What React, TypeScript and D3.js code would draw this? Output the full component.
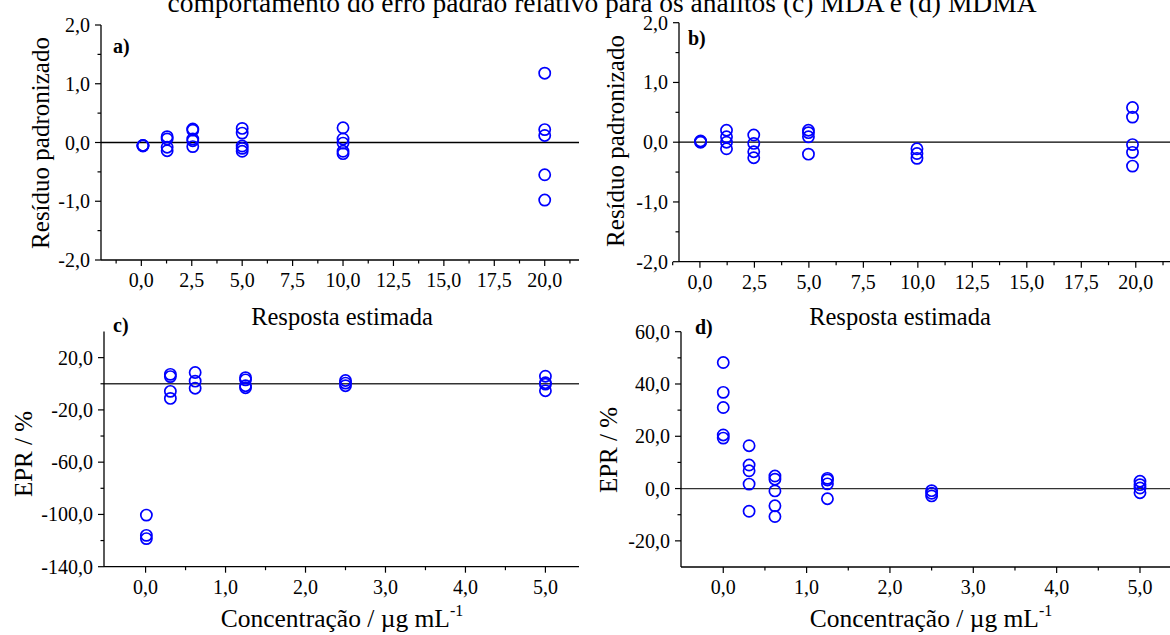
import React from "react";
import * as d3 from "d3";

// ---- data ----
const aConc = [0.08, 1.28, 2.55, 5.0, 10.0, 20.0];
const aResid = [
  [-0.05, -0.06, -0.05],
  [0.10, 0.06, -0.08, -0.14],
  [0.23, 0.21, 0.06, 0.03, -0.07],
  [0.24, 0.16, -0.06, -0.10, -0.15],
  [0.25, 0.06, -0.01, -0.15, -0.19],
  [1.18, 0.22, 0.12, -0.55, -0.98],
];
const bConc = [0.03, 1.22, 2.47, 4.98, 9.96, 19.85];
const bResid = [
  [0.02, 0.01, 0.0],
  [0.20, 0.09, 0.0, -0.11],
  [0.12, -0.02, -0.16, -0.26],
  [0.20, 0.16, 0.09, -0.20],
  [-0.11, -0.19, -0.27],
  [0.58, 0.42, -0.04, -0.17, -0.40],
];
const cConc = [0.01, 0.31, 0.62, 1.25, 2.5, 5.0];
const cEpr = [
  [-100.5, -116, -118.5],
  [7.2, 5.5, -5.8, -11.2],
  [8.6, 2.0, -3.4],
  [4.7, 3.0, -1.5, -3.0],
  [2.5, 0.5, -1.5],
  [5.8, 0.8, -0.3, -5.3],
];
const dConc = [0.0, 0.31, 0.62, 1.25, 2.5, 5.0];
const dEpr = [
  [48.2, 36.8, 31.0, 20.5, 19.3],
  [16.4, 9.0, 6.8, 1.7, -8.7],
  [4.8, 3.6, -0.9, -6.6, -10.7],
  [3.9, 3.3, 1.8, -3.9],
  [-0.8, -1.8, -2.8],
  [2.8, 1.5, 0.2, -1.6],
];

const residXMajor = [0, 2.5, 5, 7.5, 10, 12.5, 15, 17.5, 20];
const residXMinor = [-1.25, 1.25, 3.75, 6.25, 8.75, 11.25, 13.75, 16.25, 18.75, 21.25];
const residYMajor = [-2, -1, 0, 1, 2];
const residYMinor = [-1.5, -0.5, 0.5, 1.5];
const concXMajor = [0, 1, 2, 3, 4, 5];
const concXMinor = [0.5, 1.5, 2.5, 3.5, 4.5];
const cYMajor = [-140, -100, -60, -20, 20];
const cYMinor = [-120, -80, -40, 0];
const dYMajor = [-20, 0, 20, 40, 60];
const dYMinor = [-10, 10, 30, 50];

const title = "comportamento do erro padrão relativo para os analitos (c) MDA e (d) MDMA";

const FONT = "'Liberation Serif', 'Times New Roman', serif";
const BLUE = "#0000FF";
const fmt = (v: number) => v.toFixed(1).replace(".", ",");

type PanelProps = {
  xs: number[];
  ys: number[][];
  xDomain: [number, number];
  xRange: [number, number];
  yDomain: [number, number];
  yRange: [number, number];
  xMajor: number[];
  xMinor: number[];
  yMajor: number[];
  yMinor: number[];
  xLabelGap: number;
  zeroColor: string;
};

function Panel(p: PanelProps) {
  const x = d3.scaleLinear().domain(p.xDomain).range(p.xRange);
  const y = d3.scaleLinear().domain(p.yDomain).range(p.yRange);
  const x0 = p.xRange[0];
  const yb = p.yRange[0];
  const pts: { cx: number; cy: number }[] = [];
  p.xs.forEach((xv, i) => p.ys[i].forEach((yv) => pts.push({ cx: x(xv), cy: y(yv) })));
  return (
    <g>
      <line x1={x0} x2={p.xRange[1]} y1={y(0)} y2={y(0)} stroke={p.zeroColor} strokeWidth={1.3} />
      <line x1={x0} x2={x0} y1={p.yRange[1]} y2={yb} stroke="#000" strokeWidth={1.3} />
      <line x1={x0} x2={p.xRange[1]} y1={yb} y2={yb} stroke="#000" strokeWidth={1.3} />
      {p.xMajor.map((t) => (
        <g key={"xm" + t}>
          <line x1={x(t)} x2={x(t)} y1={yb} y2={yb + 6} stroke="#000" strokeWidth={1.2} />
          <text x={x(t)} y={yb + p.xLabelGap} textAnchor="middle" fontSize={20} fontFamily={FONT}>
            {fmt(t)}
          </text>
        </g>
      ))}
      {p.xMinor.map((t) => (
        <line key={"xn" + t} x1={x(t)} x2={x(t)} y1={yb} y2={yb + 3.5} stroke="#000" strokeWidth={1.2} />
      ))}
      {p.yMajor.map((t) => (
        <g key={"ym" + t}>
          <line x1={x0 - 6} x2={x0} y1={y(t)} y2={y(t)} stroke="#000" strokeWidth={1.2} />
          <text x={x0 - 11} y={y(t)} dy="0.35em" textAnchor="end" fontSize={20} fontFamily={FONT}>
            {fmt(t)}
          </text>
        </g>
      ))}
      {p.yMinor.map((t) => (
        <line key={"yn" + t} x1={x0 - 3.5} x2={x0} y1={y(t)} y2={y(t)} stroke="#000" strokeWidth={1.2} />
      ))}
      {pts.map((d, i) => (
        <circle key={i} cx={d.cx} cy={d.cy} r={5.6} fill="none" stroke={BLUE} strokeWidth={1.7} />
      ))}
    </g>
  );
}

function YTitle({ x, y, text }: { x: number; y: number; text: string }) {
  return (
    <text
      transform={`translate(${x},${y}) rotate(-90)`}
      dy="0.35em"
      textAnchor="middle"
      fontSize={25}
      fontFamily={FONT}
    >
      {text}
    </text>
  );
}

function ConcTitle({ x, y }: { x: number; y: number }) {
  return (
    <text x={x} y={y} textAnchor="middle" fontSize={25.5} fontFamily={FONT}>
      Concentração / µg mL
      <tspan fontSize={16} dy={-11}>-1</tspan>
    </text>
  );
}

export default function App() {
  return (
    <div style={{ position: "absolute", left: 0, top: 0 }}>
      <svg width={1170} height={635} style={{ display: "block", background: "#fff" }}>
        <text x={602} y={12} textAnchor="middle" fontSize={27.5} fontFamily={FONT}>
          {title}
        </text>

        <Panel
          xs={aConc}
          ys={aResid}
          xDomain={[-2, 21.7]}
          xRange={[101, 579]}
          yDomain={[-2, 2]}
          yRange={[260, 25]}
          xMajor={residXMajor}
          xMinor={residXMinor}
          yMajor={residYMajor}
          yMinor={residYMinor}
          xLabelGap={27}
          zeroColor="#000"
        />
        <Panel
          xs={bConc}
          ys={bResid}
          xDomain={[-0.96, 21.8]}
          xRange={[679, 1175]}
          yDomain={[-2, 2]}
          yRange={[261.7, 22.7]}
          xMajor={residXMajor}
          xMinor={residXMinor}
          yMajor={residYMajor}
          yMinor={residYMinor}
          xLabelGap={27}
          zeroColor="#000"
        />
        <Panel
          xs={cConc}
          ys={cEpr}
          xDomain={[-0.52, 5.42]}
          xRange={[104, 579]}
          yDomain={[-140, 40]}
          yRange={[566.7, 331.5]}
          xMajor={concXMajor}
          xMinor={concXMinor}
          yMajor={cYMajor}
          yMinor={cYMinor}
          xLabelGap={27}
          zeroColor="#333"
        />
        <Panel
          xs={dConc}
          ys={dEpr}
          xDomain={[-0.507, 5.42]}
          xRange={[681, 1175]}
          yDomain={[-30, 60]}
          yRange={[567, 331.7]}
          xMajor={concXMajor}
          xMinor={concXMinor}
          yMajor={dYMajor}
          yMinor={dYMinor}
          xLabelGap={27}
          zeroColor="#333"
        />

        <YTitle x={40} y={143} text="Resíduo padronizado" />
        <YTitle x={615} y={141} text="Resíduo padronizado" />
        <YTitle x={23} y={454} text="EPR / %" />
        <YTitle x={608} y={450} text="EPR / %" />

        <text x={342} y={325} textAnchor="middle" fontSize={24.5} fontFamily={FONT}>
          Resposta estimada
        </text>
        <text x={900} y={325} textAnchor="middle" fontSize={24.5} fontFamily={FONT}>
          Resposta estimada
        </text>
        <ConcTitle x={342} y={627} />
        <ConcTitle x={931} y={627} />

        <text x={113} y={53} fontSize={20} fontWeight="bold" fontFamily={FONT}>a)</text>
        <text x={688} y={45} fontSize={20} fontWeight="bold" fontFamily={FONT}>b)</text>
        <text x={113} y={332} fontSize={20} fontWeight="bold" fontFamily={FONT}>c)</text>
        <text x={695} y={334} fontSize={20} fontWeight="bold" fontFamily={FONT}>d)</text>
      </svg>
    </div>
  );
}
